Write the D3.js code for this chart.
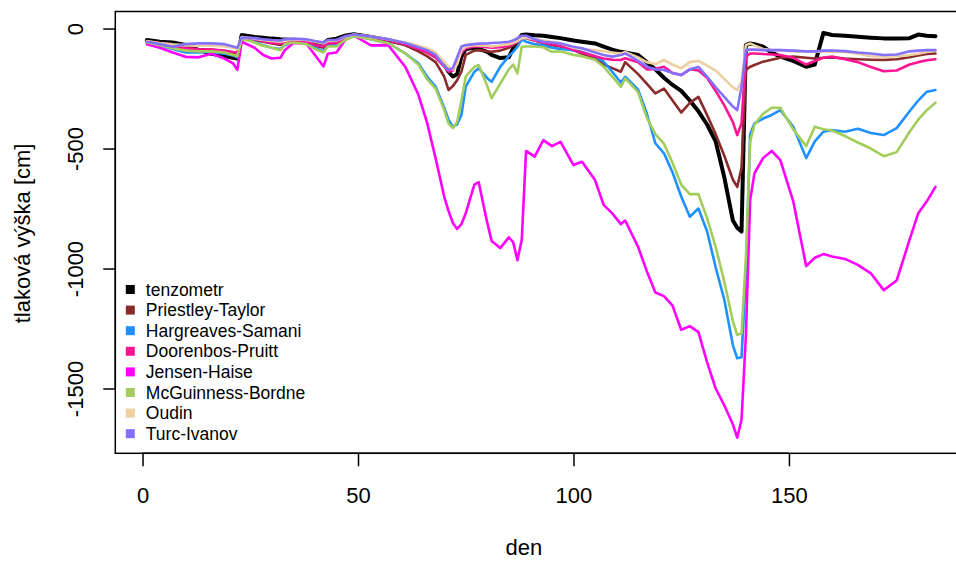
<!DOCTYPE html>
<html>
<head>
<meta charset="utf-8">
<script src="https://cdn.jsdelivr.net/npm/d3@7"></script>
<style>
  html, body { margin: 0; padding: 0; background: #fff; }
  svg { display: block; font-family: "Liberation Sans", Arial, sans-serif; }
</style>
</head>
<body>
<svg id="chart" width="956" height="561"></svg>
<script>
// day of the season
const den = [
  1, 4, 7, 10, 13, 16, 19, 21, 22, 23,
  26, 28, 30, 32, 33, 35, 38, 40, 42, 43,
  45, 47, 49, 53, 57, 61, 64, 66, 68, 70,
  71, 72, 73, 74, 75, 77, 78, 80, 81, 83,
  85, 86, 87, 88, 89, 91, 93, 95, 97, 100,
  102, 105, 107, 109, 111, 112, 115, 117, 119, 121,
  123, 125, 127, 129, 131, 133, 135, 137, 138, 139,
  140, 141, 142, 144, 146, 148, 151, 154, 156, 158,
  160, 163, 166, 169, 172, 175, 178, 180, 182, 184
];

// pressure head [cm]: measured and modelled with different ET formulas
const tenzometr = [
  -48, -55, -58, -68, -90, -105, -115, -122, -125, -27,
  -35, -38, -42, -45, -46, -48, -52, -58, -62, -48,
  -42, -30, -24, -35, -48, -65, -82, -95, -115, -145,
  -180, -200, -190, -117, -85, -80, -85, -97, -110, -123,
  -120, -82, -50, -27, -25, -28, -30, -35, -40, -50,
  -55, -62, -75, -88, -97, -100, -110, -140, -170, -205,
  -235, -260, -300, -345, -400, -470, -620, -800, -830, -846,
  -69, -62, -65, -76, -100, -117, -135, -159, -150, -18,
  -27, -30, -34, -38, -41, -41, -40, -25, -30, -32
];
const priestleyTaylor = [
  -55, -65, -75, -80, -85, -88, -95, -100, -105, -40,
  -48, -55, -62, -68, -62, -55, -60, -72, -80, -65,
  -62, -42, -28, -38, -52, -70, -95, -115, -140, -200,
  -256, -240, -215, -180, -110, -92, -90, -95, -97, -92,
  -80, -70, -55, -40, -40, -50, -60, -70, -75, -90,
  -105, -125, -150, -165, -180, -140, -190, -230, -270, -250,
  -300, -350, -310, -285, -360, -440, -530, -630, -660, -580,
  -173, -159, -152, -138, -130, -122, -117, -122, -125, -122,
  -120, -125, -128, -130, -131, -128, -120, -112, -106, -104
];
const hargreavesSamani = [
  -60, -72, -85, -100, -100, -98, -105, -112, -120, -40,
  -55, -70, -80, -85, -70, -55, -62, -80, -95, -70,
  -70, -45, -30, -45, -61, -104, -145, -200, -242, -330,
  -380, -409, -400, -360, -242, -180, -166, -207, -222, -160,
  -115, -97, -76, -45, -55, -65, -70, -80, -85, -90,
  -98, -115, -138, -180, -225, -201, -255, -353, -478, -520,
  -600, -700, -784, -750, -845, -995, -1130, -1320, -1374, -1370,
  -1030, -440, -395, -375, -360, -340, -409, -540, -470, -430,
  -423, -430, -418, -435, -444, -415, -345, -300, -263, -256
];
const doorenbosPruitt = [
  -55, -66, -76, -82, -86, -88, -92, -98, -102, -38,
  -45, -52, -60, -62, -58, -50, -55, -68, -75, -62,
  -60, -38, -26, -35, -48, -65, -85, -100, -120, -159,
  -180, -175, -140, -102, -82, -75, -75, -78, -80, -78,
  -72, -65, -55, -38, -38, -50, -58, -65, -72, -90,
  -100, -115, -125, -130, -131, -124, -140, -170, -168, -159,
  -185, -194, -170, -175, -205, -260, -320, -390, -444, -395,
  -117, -104, -104, -106, -108, -110, -122, -150, -135, -122,
  -117, -128, -140, -160, -178, -175, -150, -140, -132, -128
];
const jensenHaise = [
  -65, -80, -100, -118, -120, -105, -125, -145, -172, -55,
  -80, -110, -125, -122, -90, -60, -62, -110, -158, -105,
  -100, -48, -28, -70, -69, -160, -275, -390, -540, -700,
  -760, -810, -835, -815, -770, -650, -640, -810, -885, -915,
  -870, -890, -965, -880, -510, -534, -465, -490, -472, -569,
  -555, -631, -735, -770, -815, -800, -910, -1010, -1100, -1115,
  -1155, -1255, -1240, -1265, -1390, -1500, -1570, -1650, -1705, -1630,
  -1284, -715, -603, -540, -510, -548, -720, -990, -955, -940,
  -950, -960, -985, -1020, -1090, -1050, -880, -770, -720, -660
];
const mcGuinnessBordne = [
  -58, -70, -82, -92, -95, -95, -100, -110, -115, -42,
  -58, -72, -80, -90, -65, -58, -65, -85, -100, -75,
  -75, -48, -32, -45, -61, -104, -150, -210, -250, -340,
  -395, -415, -390, -300, -200, -160, -152, -240, -290, -230,
  -170, -150, -187, -76, -75, -75, -78, -97, -95, -110,
  -115, -130, -159, -200, -243, -208, -265, -370, -440, -480,
  -560, -650, -690, -690, -790, -910, -1055, -1220, -1277, -1270,
  -960, -470, -400, -355, -330, -330, -420, -490, -409, -420,
  -425, -448, -475, -500, -532, -515, -430, -380, -340, -309
];
const oudin = [
  -52, -60, -66, -70, -72, -72, -75, -80, -85, -35,
  -42, -48, -52, -55, -52, -45, -48, -55, -62, -52,
  -50, -35, -25, -33, -45, -58, -72, -82, -100, -140,
  -160, -170, -150, -90, -76, -70, -70, -72, -75, -70,
  -65, -60, -52, -40, -38, -45, -50, -55, -62, -80,
  -85, -90, -95, -100, -104, -98, -120, -140, -148, -131,
  -150, -166, -140, -135, -155, -175, -210, -245, -256, -222,
  -69, -62, -70, -85, -90, -90, -95, -97, -97, -97,
  -97, -98, -105, -115, -117, -115, -110, -105, -98, -92
];
const turcIvanov = [
  -55, -65, -76, -65, -62, -62, -65, -75, -80, -38,
  -40, -45, -48, -50, -45, -42, -45, -52, -58, -48,
  -48, -32, -25, -33, -45, -60, -78, -90, -110, -155,
  -173, -165, -120, -75, -69, -65, -63, -62, -60, -58,
  -55, -50, -40, -30, -30, -45, -55, -58, -62, -76,
  -82, -100, -110, -117, -110, -104, -135, -159, -170, -173,
  -185, -194, -170, -160, -200, -245, -285, -325, -340, -243,
  -90, -88, -88, -90, -90, -90, -92, -95, -95, -92,
  -92, -94, -100, -104, -110, -108, -95, -92, -90, -90
];

const seriesNames = ["tenzometr", "Priestley-Taylor", "Hargreaves-Samani", "Doorenbos-Pruitt",
                     "Jensen-Haise", "McGuinness-Bordne", "Oudin", "Turc-Ivanov"];
const seriesValues = [tenzometr, priestleyTaylor, hargreavesSamani, doorenbosPruitt,
                      jensenHaise, mcGuinnessBordne, oudin, turcIvanov];
const seriesColors = ["#000000", "#8B2A2A", "#1E90FF", "#FF1493",
                      "#FF00FF", "#A2CD5A", "#EECFA1", "#8470FF"];

const xTicks = [0, 50, 100, 150];
const yTicks = [0, -500, -1000, -1500];

const svg = d3.select("#chart");
const box = { left: 115.3, right: 967, top: 11.5, bottom: 453.3 };

const x = d3.scaleLinear().domain([-6.32, 191.32]).range([box.left, box.right]);
const y = d3.scaleLinear().domain([-1770, 71]).range([box.bottom, box.top]);

const plot = svg.append("g");
const line = d3.line().x((d, i) => x(den[i])).y(d => y(d));

seriesValues.forEach((vals, k) => {
  plot.append("path")
    .datum(vals)
    .attr("d", line)
    .attr("fill", "none")
    .attr("stroke", seriesColors[k])
    .attr("stroke-width", k === 0 ? 4 : 2.6)
    .attr("stroke-linejoin", "round")
    .attr("stroke-linecap", "round");
});

// frame
svg.append("rect")
  .attr("x", box.left).attr("y", box.top)
  .attr("width", box.right - box.left).attr("height", box.bottom - box.top)
  .attr("fill", "none").attr("stroke", "#000").attr("stroke-width", 1.5);

// x axis
const xAxis = svg.append("g")
  .attr("transform", `translate(0,${box.bottom})`)
  .call(d3.axisBottom(x).tickValues(xTicks).tickSize(13).tickPadding(21).tickFormat(d3.format("d")));
xAxis.select(".domain").attr("d", `M${x(0)},0H${x(150)}`).attr("stroke-width", 1.5);
xAxis.selectAll(".tick line").attr("stroke-width", 1.5);
xAxis.selectAll("text").attr("font-size", 22).attr("fill", "#000");

// y axis with labels parallel to the axis
const yAxis = svg.append("g")
  .attr("transform", `translate(${box.left},0)`)
  .call(d3.axisLeft(y).tickValues(yTicks).tickSize(12).tickFormat(d => d === 0 ? "0" : "-" + Math.abs(d)));
yAxis.select(".domain").attr("d", `M0,${y(0)}V${y(-1500)}`).attr("stroke-width", 1.5);
yAxis.selectAll(".tick line").attr("stroke-width", 1.5);
yAxis.selectAll(".tick text")
  .attr("x", null).attr("dy", null)
  .attr("font-size", 22).attr("fill", "#000")
  .attr("text-anchor", "middle")
  .attr("transform", "translate(-32,0) rotate(-90)");

// axis titles
svg.append("text")
  .attr("x", x(88.5)).attr("y", 555)
  .attr("text-anchor", "middle").attr("font-size", 22)
  .text("den");
svg.append("text")
  .attr("transform", `translate(29.5,${(box.top + box.bottom) / 2 + 1}) rotate(-90)`)
  .attr("text-anchor", "middle").attr("font-size", 22)
  .text("tlaková výška [cm]");

// legend
const legend = svg.append("g").attr("transform", "translate(130.3,289.5)");
seriesNames.forEach((name, k) => {
  const g = legend.append("g").attr("transform", `translate(0,${k * 20.6})`);
  g.append("rect").attr("x", -4.5).attr("y", -4.5).attr("width", 9).attr("height", 9)
    .attr("fill", seriesColors[k]);
  g.append("text").attr("x", 15.5).attr("y", 6).attr("font-size", 17.5).attr("fill", "#000")
    .text(name);
});
</script>
</body>
</html>
